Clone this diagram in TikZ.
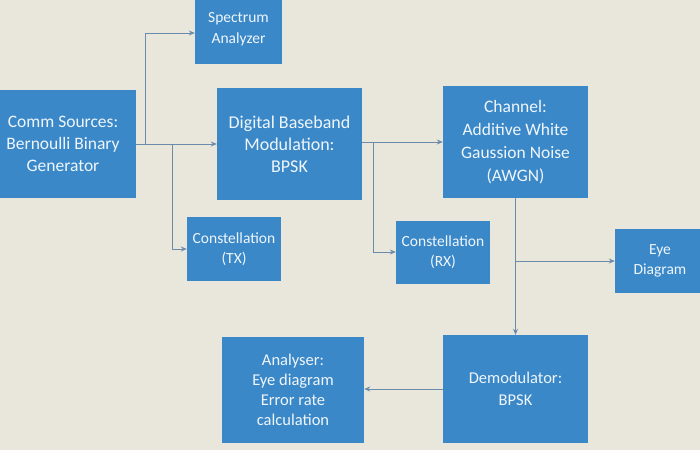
\documentclass[tikz,border=0pt]{standalone}
\usepackage{fontspec}
\setmainfont{Carlito}
\usetikzlibrary{arrows.meta}
\definecolor{boxblue}{RGB}{59,136,200}
\definecolor{paper}{RGB}{233,230,220}
\definecolor{wire}{RGB}{106,140,170}
\begin{document}
\begin{tikzpicture}[x=1pt, y=-1pt,
    main/.style = {fill=boxblue, text={white!92!boxblue}, align=center, inner sep=0pt},
    wire/.style = {draw=wire, line width=1pt, -{Stealth[length=6pt,width=5pt]}}]
                \fill[paper] (0,0) rectangle (700,450);
                \clip (0,0) rectangle (700,450);
                \useasboundingbox (0,0) rectangle (700,450);

                \node[main] (1) [minimum width=146pt, minimum height=108pt, font=\fontsize{17.5}{22}\selectfont] at (63,144) {Comm Sources:\\Bernoulli Binary\\Generator};
                \node[main] (2) [minimum width=87pt, minimum height=70pt, font=\fontsize{15.5}{21}\selectfont] at (238.5,29) {Spectrum\\Analyzer};
                \node[main] (3) [minimum width=145pt, minimum height=112pt, font=\fontsize{18}{22}\selectfont] at (289.5,144) {Digital Baseband\\Modulation:\\BPSK};
                \node[main] (4) [minimum width=145pt, minimum height=112pt, font=\fontsize{17.5}{23}\selectfont] at (515.5,142) {Channel:\\Additive White\\Gaussion Noise\\(AWGN)};
                \node[main] (5) [minimum width=94pt, minimum height=64pt, font=\fontsize{15.5}{20}\selectfont] at (234,249) {Constellation\\(TX)};
                \node[main] (6) [minimum width=94pt, minimum height=63pt, font=\fontsize{15.5}{20}\selectfont] at (443,252) {Constellation\\(RX)};
                \node[main] (7) [minimum width=90pt, minimum height=64pt, font=\fontsize{15.5}{20}\selectfont] at (660,261) {Eye\\Diagram};
                \node[main] (8) [minimum width=142pt, minimum height=106pt, font=\fontsize{16.5}{20}\selectfont] at (293,390) {Analyser:\\Eye diagram\\Error rate\\calculation};
                \node[main] (9) [minimum width=145pt, minimum height=108pt, font=\fontsize{16.5}{22}\selectfont] at (515.5,389) {Demodulator:\\BPSK};

                \coordinate (a) at (145,144);
                \coordinate (b) at (172,144);
                \coordinate (c) at (373,142);
                \coordinate (d) at (515.5,261);

                \draw[wire] (1.east) -- (3.west);
                \draw[wire, -] (a) -- (145,33);
                \draw[wire] (145,33) -- (145,33 -| 2.west);
                \draw[wire] (b) |- (5);
                \draw[wire] (3.east |- 4.west) -- (4.west);
                \draw[wire] (c) |- (6);
                \draw[wire] (4) -- (9);
                \draw[wire] (d) -- (7);
                \draw[wire] (9.west) -- (9.west -| 8.east);

            \end{tikzpicture}
\end{document}
